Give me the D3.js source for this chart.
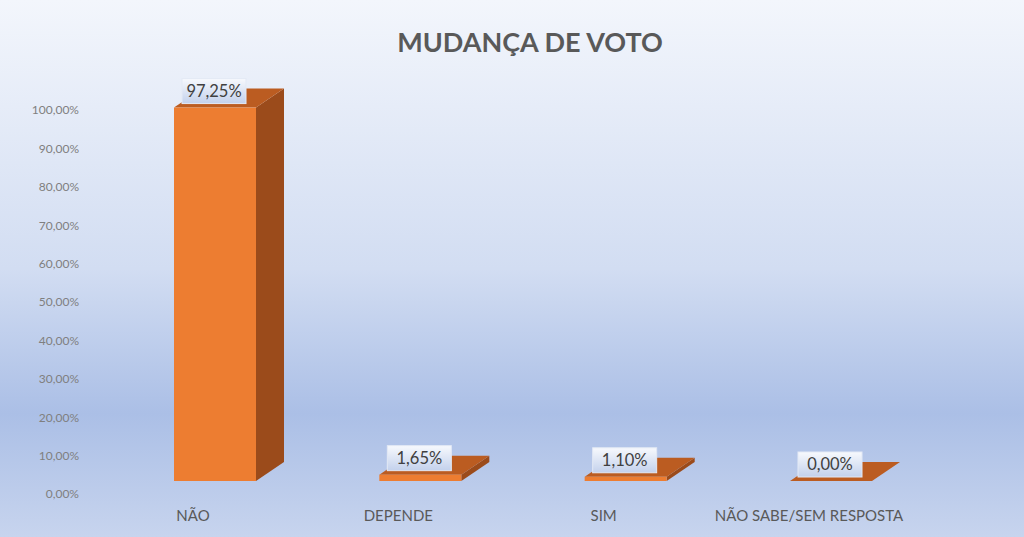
<!DOCTYPE html>
<html>
<head>
<meta charset="utf-8">
<script src="https://cdn.jsdelivr.net/npm/d3@7/dist/d3.min.js"></script>
<style>
  html, body { margin: 0; padding: 0; overflow: hidden; }
  svg { display: block; }
</style>
</head>
<body>
<svg id="chart"></svg>
<script>
// data
const categories = ['NÃO', 'DEPENDE', 'SIM', 'NÃO SABE/SEM RESPOSTA'];
const values = [0.9725, 0.0165, 0.011, 0.0];
const valueLabels = ['97,25%', '1,65%', '1,10%', '0,00%'];
const yTicks = [0, 0.1, 0.2, 0.3, 0.4, 0.5, 0.6, 0.7, 0.8, 0.9, 1.0];
const title = 'MUDANÇA DE VOTO';

const W = 1024, H = 537;
const FONT = 'Lato, "Open Sans", sans-serif';
const svg = d3.select('#chart').attr('width', W).attr('height', H);
const defs = svg.append('defs');

// background gradient
const bg = defs.append('linearGradient').attr('id', 'bg').attr('x1', 0).attr('y1', 0).attr('x2', 0).attr('y2', 1);
bg.append('stop').attr('offset', '0%').attr('stop-color', '#f3f6fc');
bg.append('stop').attr('offset', '50%').attr('stop-color', '#d2ddf2');
bg.append('stop').attr('offset', '77%').attr('stop-color', '#abbfe6');
bg.append('stop').attr('offset', '100%').attr('stop-color', '#c7d4ee');
svg.append('rect').attr('width', W).attr('height', H).attr('fill', 'url(#bg)');

// label box gradient
const lg = defs.append('linearGradient').attr('id', 'lbl').attr('x1', 0).attr('y1', 0).attr('x2', 0).attr('y2', 1);
lg.append('stop').attr('offset', '0%').attr('stop-color', '#f7f9fd');
lg.append('stop').attr('offset', '100%').attr('stop-color', '#c3d1ec');

// scales
const x = d3.scalePoint().domain(categories).range([215, 831]);
const y = d3.scaleLinear().domain([0, 1]).range([494, 110]);
const floorOff = 13;          // front edge of floor sits above the axis zero
const BW = 82, DX = 28, DY = -19;

// title
svg.append('text').attr('x', 530).attr('y', 52).attr('text-anchor', 'middle')
    .attr('font-family', FONT).attr('font-weight', 'bold')
    .attr('font-size', 27).attr('fill', '#595959').text(title);

// y axis (labels only)
const yAxis = d3.axisLeft(y).tickValues(yTicks).tickSize(0).tickPadding(0)
    .tickFormat(d => (d * 100).toFixed(2).replace('.', ',') + '%');
const ya = svg.append('g').attr('transform', 'translate(79,0)').call(yAxis);
ya.select('.domain').remove();
ya.selectAll('text').attr('font-family', FONT).attr('font-size', 12).attr('fill', '#7f7f7f');

// bars
const bars = svg.append('g');
categories.forEach((c, i) => {
    const cx = x(c), x0 = cx - BW / 2, x1 = cx + BW / 2;
    const yb = y(0) - floorOff, yt = y(values[i]) - floorOff;
    const g = bars.append('g');
    // side face
    g.append('path').attr('d', `M${x1},${yt} L${x1 + DX},${yt + DY} L${x1 + DX},${yb + DY} L${x1},${yb} Z`).attr('fill', '#9b4b1b');
    // top face
    g.append('path').attr('d', `M${x0},${yt} L${x0 + DX},${yt + DY} L${x1 + DX},${yt + DY} L${x1},${yt} Z`).attr('fill', '#bb5c21');
    // front face
    if (yb - yt > 0.5) g.append('rect').attr('x', x0).attr('y', yt).attr('width', BW).attr('height', yb - yt).attr('fill', '#ed7d31');

    // data label
    const bw = 64, bh = 25;
    const lbl = svg.append('g').attr('transform', `translate(${cx - 1},${yt - 4 - bh / 2})`);
    lbl.append('rect').attr('x', -bw / 2).attr('y', -bh / 2).attr('width', bw).attr('height', bh)
        .attr('fill', 'url(#lbl)').attr('stroke', '#e3e9f5').attr('stroke-width', 1);
    lbl.append('text').attr('text-anchor', 'middle').attr('dy', '0.36em')
        .attr('font-family', FONT).attr('font-size', 16.5).attr('fill', '#404040')
        .text(valueLabels[i]);

    // category label
    svg.append('text').attr('x', cx - 22).attr('y', 521).attr('text-anchor', 'middle')
        .attr('font-family', FONT).attr('font-size', 15).attr('fill', '#595959')
        .text(c);
});
</script>
</body>
</html>
